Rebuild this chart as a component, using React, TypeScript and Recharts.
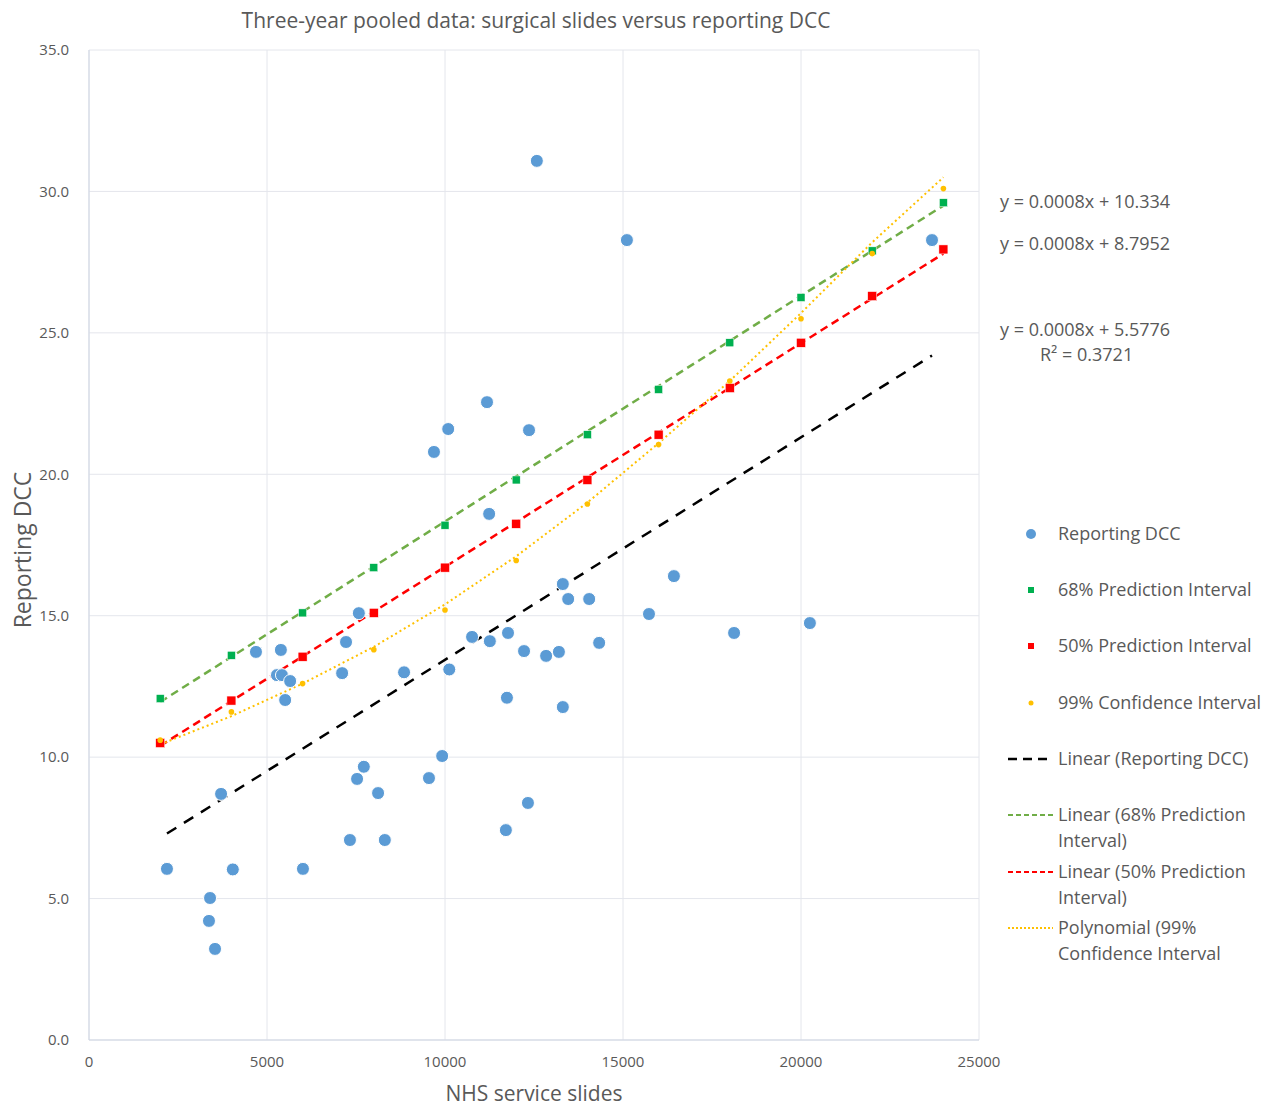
import React from 'react'
import { ComposedChart, Scatter, XAxis, YAxis, CartesianGrid, Label } from 'recharts'

// Reporting DCC per department (NHS service slides vs DCC)
const slides = [
  2190, 3370, 3400, 3540, 3710, 4040, 4690, 5280, 5390, 5420, 5510, 5650, 6010,
  7110, 7220, 7330, 7530, 7580, 7720, 8120, 8310, 8850, 9550, 9690, 9920, 10090,
  10120, 10760, 11180, 11240, 11260, 11710, 11740, 11770, 12220, 12330, 12360,
  12580, 12840, 13200, 13310, 13310, 13460, 14050, 14330, 15110, 15730, 16430,
  18120, 20250, 23680,
]
const dcc = [
  6.05, 4.21, 5.02, 3.22, 8.7, 6.03, 13.72, 12.9, 13.79, 12.9, 12.02, 12.69, 6.05,
  12.97, 14.07, 7.07, 9.23, 15.09, 9.66, 8.73, 7.07, 13.0, 9.26, 20.79, 10.04, 21.6,
  13.1, 14.25, 22.55, 18.6, 14.1, 7.42, 12.1, 14.39, 13.75, 8.38, 21.56,
  31.08, 13.58, 13.72, 16.12, 11.77, 15.59, 15.59, 14.04, 28.28, 15.06, 16.4,
  14.39, 14.74, 28.28,
]

// interval series, sampled every 2000 slides
const intervalX = [2000, 4000, 6000, 8000, 10000, 12000, 14000, 16000, 18000, 20000, 22000, 24000]
const pi68 = [12.07, 13.6, 15.1, 16.7, 18.2, 19.8, 21.4, 23.0, 24.65, 26.25, 27.9, 29.6]
const pi50 = [10.5, 12.0, 13.55, 15.1, 16.7, 18.25, 19.8, 21.4, 23.05, 24.65, 26.3, 27.95]
const ci99 = [10.6, 11.6, 12.6, 13.8, 15.2, 16.95, 18.95, 21.05, 23.3, 25.5, 27.8, 30.1]

// trendlines
const trendDccX = [2190, 23680]
const trendDccY = [7.3, 24.2]
const trend68X = [2000, 24000]
const trend68Y = [11.95, 29.5]
const trend50X = [2000, 24000]
const trend50Y = [10.4, 27.8]
const polyY = [10.45, 11.45, 12.6, 13.9, 15.4, 17.1, 19.0, 21.1, 23.3, 25.7, 28.2, 30.5]

const xTicks = [0, 5000, 10000, 15000, 20000, 25000]
const yTicks = [0, 5, 10, 15, 20, 25, 30, 35]

const equations = ['y = 0.0008x + 10.334', 'y = 0.0008x + 8.7952', 'y = 0.0008x + 5.5776', 'R² = 0.3721']

const zip = (xs: number[], ys: number[]) => xs.map((x, i) => ({ x, y: ys[i] }))

const FONT = '"Open Sans", Lato, sans-serif'
const TEXT = '#595959'

const dotBlue = (p: any) => <circle cx={p.cx} cy={p.cy} r={6.5} fill="#5B9BD5" stroke="#fff" strokeWidth={1} />
const sqGreen = (p: any) => <rect x={p.cx - 4} y={p.cy - 4} width={8} height={8} fill="#00B050" stroke="#fff" strokeWidth={0.5} />
const sqRed = (p: any) => <rect x={p.cx - 4.5} y={p.cy - 4.5} width={9} height={9} fill="#FF0000" stroke="#fff" strokeWidth={0.5} />
const dotOrange = (p: any) => <circle cx={p.cx} cy={p.cy} r={2.8} fill="#FFC000" />
const noShape = () => <g />

const legendItems = [
  { label: ['Reporting DCC'], kind: 'dot', color: '#5B9BD5' },
  { label: ['68% Prediction Interval'], kind: 'sq', color: '#00B050' },
  { label: ['50% Prediction Interval'], kind: 'sq', color: '#FF0000' },
  { label: ['99% Confidence Interval'], kind: 'small', color: '#FFC000' },
  { label: ['Linear (Reporting DCC)'], kind: 'line', color: '#000', dash: '9 6' },
  { label: ['Linear (68% Prediction', 'Interval)'], kind: 'line', color: '#70AD47', dash: '5 3' },
  { label: ['Linear (50% Prediction', 'Interval)'], kind: 'line', color: '#FF0000', dash: '5 3' },
  { label: ['Polynomial (99%', 'Confidence Interval'], kind: 'line', color: '#FFC000', dash: '2 2' },
]

function LegendBox() {
  const rows = [534, 590, 646, 703, 759, 815, 872, 928]
  return (
    <svg width={268} height={460} style={{ position: 'absolute', left: 1008, top: 515, fontFamily: FONT }}>
      {legendItems.map((it, i) => {
        const cy = rows[i] - 515
        return (
          <g key={i}>
            {it.kind === 'dot' && <circle cx={23} cy={cy} r={5} fill={it.color} />}
            {it.kind === 'sq' && <rect x={20} y={cy - 3} width={6} height={6} fill={it.color} />}
            {it.kind === 'small' && <circle cx={23} cy={cy} r={2.5} fill={it.color} />}
            {it.kind === 'line' && (
              <line x1={0} x2={45} y1={cy} y2={cy} stroke={it.color} strokeWidth={it.color === '#000' ? 2.5 : 2} strokeDasharray={it.dash} />
            )}
            {it.label.map((t, j) => (
              <text key={j} x={50} y={cy + j * 26 + 6} fontSize={18} fill={TEXT}>{t}</text>
            ))}
          </g>
        )
      })}
    </svg>
  )
}

export default function App() {
  return (
    <div style={{ position: 'absolute', left: 0, top: 0, width: 1276, height: 1108, background: '#fff', fontFamily: FONT }}>
      <div style={{ position: 'absolute', left: 0, top: 6, width: 1072, textAlign: 'center', fontSize: 21, color: TEXT }}>
        Three-year pooled data: surgical slides versus reporting DCC
      </div>
      <ComposedChart width={1276} height={1108} margin={{ top: 50, right: 297, bottom: 18, left: 29 }}>
        <CartesianGrid stroke="#e4e6ec" strokeWidth={1} />
        <XAxis
          type="number"
          dataKey="x"
          domain={[0, 25000]}
          ticks={xTicks}
          height={50}
          axisLine={{ stroke: '#cfd5e3' }}
          tickLine={false}
          tick={{ fill: TEXT, fontSize: 15, fontFamily: FONT }}
          tickMargin={10}
        >
          <Label value="NHS service slides" position="insideBottom" offset={-11} fill={TEXT} fontSize={21} fontFamily={FONT} />
        </XAxis>
        <YAxis
          type="number"
          dataKey="y"
          domain={[0, 35]}
          ticks={yTicks}
          width={60}
          axisLine={{ stroke: '#cfd5e3' }}
          tickLine={false}
          tickFormatter={(v: number) => v.toFixed(1)}
          tick={{ fill: TEXT, fontSize: 15, fontFamily: FONT }}
          tickMargin={14}
        >
          <Label value="Reporting DCC" angle={-90} position="insideLeft" offset={-6} dy={5} fill={TEXT} fontSize={23} fontFamily={FONT} style={{ textAnchor: 'middle' }} />
        </YAxis>

        <Scatter name="Linear (Reporting DCC)" data={zip(trendDccX, trendDccY)} shape={noShape} line={{ stroke: '#000', strokeWidth: 2.5, strokeDasharray: '11 9' }} isAnimationActive={false} />
        <Scatter name="Linear (68% Prediction Interval)" data={zip(trend68X, trend68Y)} shape={noShape} line={{ stroke: '#70AD47', strokeWidth: 2.5, strokeDasharray: '8 5' }} isAnimationActive={false} />
        <Scatter name="Linear (50% Prediction Interval)" data={zip(trend50X, trend50Y)} shape={noShape} line={{ stroke: '#FF0000', strokeWidth: 2.5, strokeDasharray: '8 5' }} isAnimationActive={false} />
        <Scatter name="Polynomial (99% Confidence Interval" data={zip(intervalX, polyY)} shape={noShape} line={{ stroke: '#FFC000', strokeWidth: 2, strokeDasharray: '2 3' }} isAnimationActive={false} />

        <Scatter name="Reporting DCC" data={zip(slides, dcc)} shape={dotBlue} isAnimationActive={false} />
        <Scatter name="68% Prediction Interval" data={zip(intervalX, pi68)} shape={sqGreen} isAnimationActive={false} />
        <Scatter name="50% Prediction Interval" data={zip(intervalX, pi50)} shape={sqRed} isAnimationActive={false} />
        <Scatter name="99% Confidence Interval" data={zip(intervalX, ci99)} shape={dotOrange} isAnimationActive={false} />
      </ComposedChart>
      <LegendBox />
      {equations.map((t, i) => (
        <div
          key={i}
          style={{
            position: 'absolute',
            left: i === 3 ? 1040 : 1000,
            top: [189, 231, 317, 342][i],
            fontSize: 18,
            color: TEXT,
            whiteSpace: 'nowrap',
          }}
        >
          {t}
        </div>
      ))}
    </div>
  )
}
